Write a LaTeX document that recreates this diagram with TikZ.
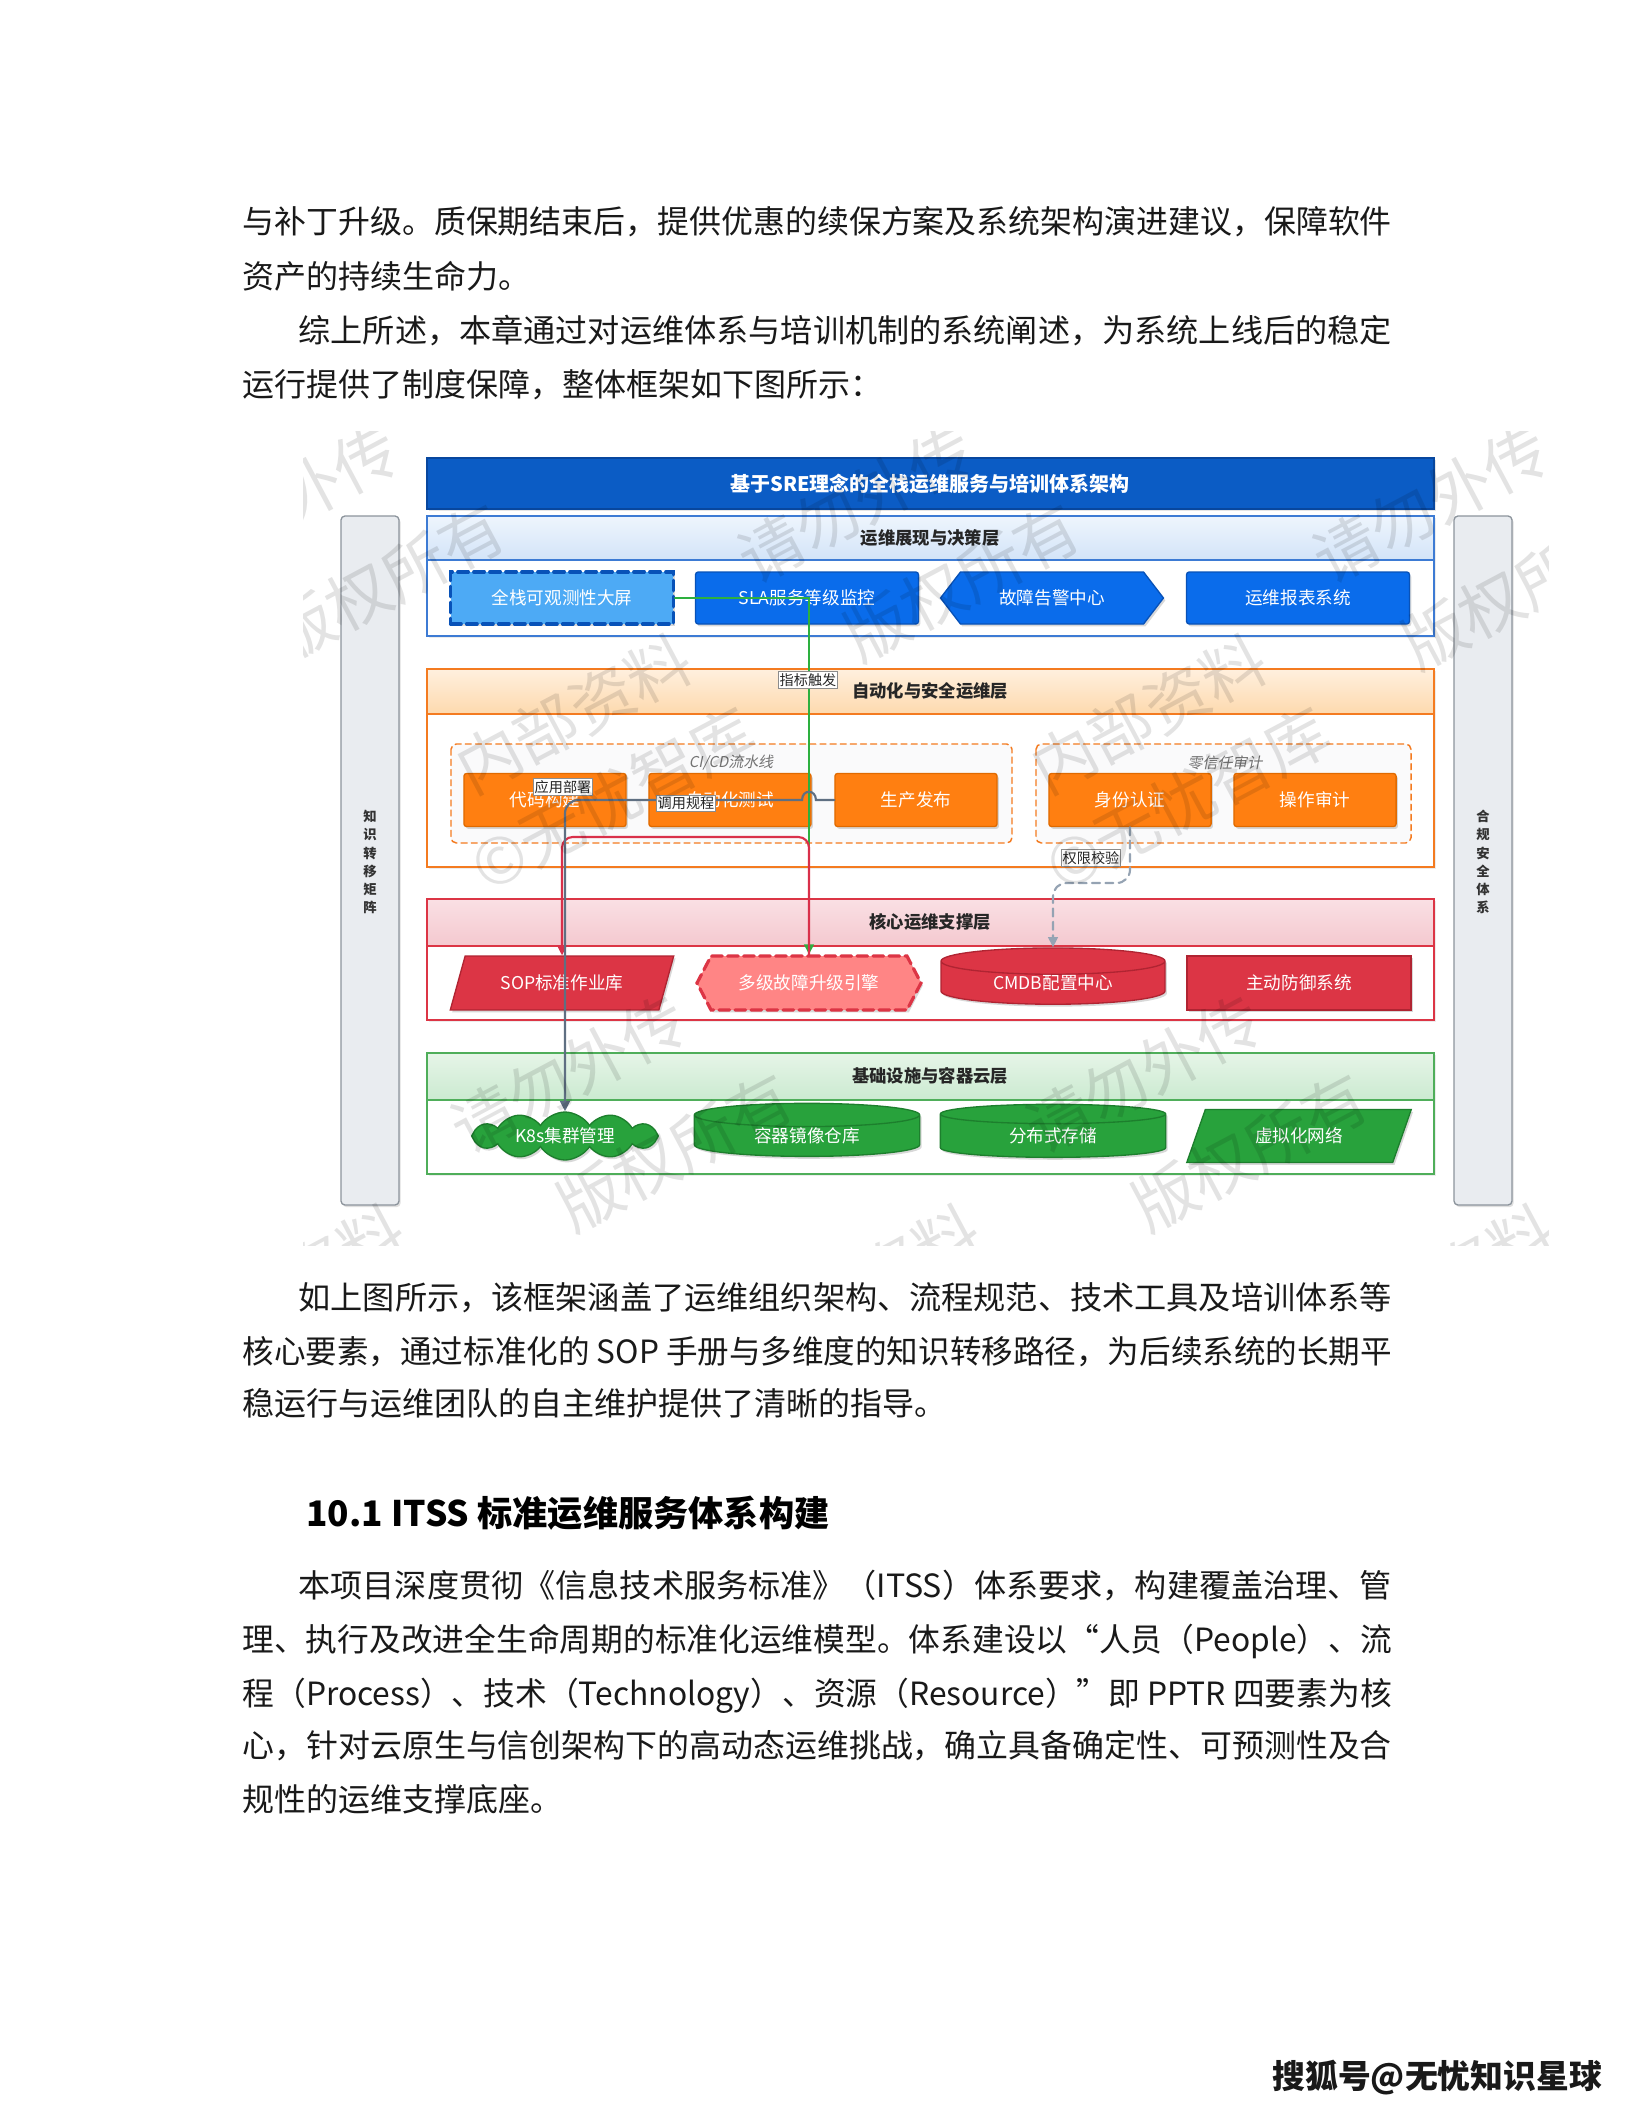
\documentclass[tikz,border=0pt]{standalone}
\usepackage{fontspec}
\usepackage{graphicx}
\setmainfont{Noto Sans CJK SC}
\newfontfamily\cjk{Noto Sans CJK SC}
\newfontfamily\cjkslant[FakeSlant=0.2]{Noto Sans CJK SC}
\usetikzlibrary{arrows.meta,shapes.geometric,shapes.symbols,shadows}
\usepackage{xcolor}

\definecolor{titleblue}{HTML}{0B5CC5}
\definecolor{titleedge}{HTML}{08479E}
\definecolor{bluehdrtop}{HTML}{EEF5FD}
\definecolor{bluehdr}{HTML}{D3E4F8}
\definecolor{blueline}{HTML}{3D7BD4}
\definecolor{nodeblue}{HTML}{0A6CEB}
\definecolor{nodeblueedge}{HTML}{0852B8}
\definecolor{lightblue}{HTML}{4DAAF5}
\definecolor{orangehdrtop}{HTML}{FFF0DE}
\definecolor{orangehdr}{HTML}{FDD9AE}
\definecolor{orangeline}{HTML}{F47B20}
\definecolor{nodeorange}{HTML}{FF7F11}
\definecolor{nodeorangeedge}{HTML}{E06A00}
\definecolor{redhdrtop}{HTML}{FAE0E4}
\definecolor{redhdr}{HTML}{F4C8CF}
\definecolor{redline}{HTML}{DC3545}
\definecolor{nodered}{HTML}{DC3545}
\definecolor{noderededge}{HTML}{B02432}
\definecolor{nodepink}{HTML}{FF8585}
\definecolor{greenhdrtop}{HTML}{E6F5E8}
\definecolor{greenhdr}{HTML}{CBEAD0}
\definecolor{greenline}{HTML}{4FAE5A}
\definecolor{nodegreen}{HTML}{28A23C}
\definecolor{nodegreenedge}{HTML}{1D7F2D}
\definecolor{sidefill}{HTML}{E9ECF0}
\definecolor{sideedge}{HTML}{8C949C}
\definecolor{slate}{HTML}{5F6F82}
\definecolor{flowgreen}{HTML}{2DB03F}
\definecolor{flowred}{HTML}{D9304A}
\definecolor{dashgray}{HTML}{95A3B3}
\definecolor{grpfill}{HTML}{FAFAFB}

\newcommand{\nodefont}{\cjk\fontsize{6.6}{8}\selectfont}
\newcommand{\hdrfont}{\cjk\bfseries\fontsize{6.5}{8}\selectfont}
\newcommand{\bodyfont}{\cjk\fontsize{12}{14}\selectfont}
\newcommand{\fullline}[2]{\resizebox{#1}{\height}{#2}}

\begin{document}
\begin{tikzpicture}[x=0.375pt,y=-0.375pt,>={Triangle[length=3.8pt,width=3.6pt]},line cap=round,font=\cjk,
  layerbody/.style={fill=white,line width=0.6pt,drop shadow={shadow xshift=0.6pt,shadow yshift=-0.9pt,opacity=0.15}},
  layerhead/.style={line width=0.6pt},
  headtext/.style={font=\hdrfont,text=black!85,inner sep=0pt},
  box/.style={inner sep=0pt,align=center,text=white,font=\nodefont,line width=0.5pt,
    drop shadow={shadow xshift=0.7pt,shadow yshift=-0.9pt,opacity=0.3}},
  l1box/.style={box,minimum width=83.6pt,minimum height=19.5pt},
  l2box/.style={box,rectangle,rounded corners=1pt,fill=nodeorange,draw=nodeorangeedge,minimum width=60.8pt,minimum height=19.9pt},
  l3box/.style={box,minimum width=84pt,minimum height=20.2pt},
  l4box/.style={box,minimum width=84.5pt,minimum height=19.9pt},
  drum/.style={cylinder,shape border rotate=90,aspect=0.22},
  group/.style={draw=orangeline,dashed,dash pattern=on 2.2pt off 1.6pt,line width=0.55pt,fill=grpfill,rounded corners=2pt},
  grouptext/.style={font=\cjkslant\fontsize{5.6}{7}\selectfont,text=black!55,inner sep=0pt},
  lbl/.style={draw=black!45,fill=white,line width=0.3pt,inner sep=0.6pt,font=\cjk\fontsize{5.3}{6}\selectfont,text=black!85},
  flow/.style={->,line width=0.8pt},
  sidebar/.style={fill=sidefill,draw=sideedge,line width=0.5pt,rounded corners=1.5pt,
    drop shadow={shadow xshift=0.6pt,shadow yshift=-0.8pt,opacity=0.25}},
  sidetext/.style={font=\cjk\bfseries\fontsize{5}{6.8}\selectfont,text=black!80,align=center,inner sep=0pt},
  bodytext/.style={anchor=base west,inner sep=0pt,font=\bodyfont,text=black!90},
  wmark/.style={rotate=28,font=\cjk\fontsize{24}{26}\selectfont,text=black,text opacity=0.11,inner sep=0pt}]

\fill[white] (0,0) rectangle (1632,2112);
\useasboundingbox (0,0) rectangle (1632,2112);

% text above the figure
\node[bodytext] (t1) at (242,234) {\fullline{431pt}{与补丁升级。质保期结束后，提供优惠的续保方案及系统架构演进建议，保障软件}};
\node[bodytext] (t2) at (242,288) {资产的持续生命力。};
\node[bodytext] (t3) at (298,342) {\fullline{410pt}{综上所述，本章通过对运维体系与培训机制的系统阐述，为系统上线后的稳定}};
\node[bodytext] (t4) at (242,396) {运行提供了制度保障，整体框架如下图所示：};

% side columns
\draw[sidebar] (341,516) rectangle (399,1205);
\node[sidetext] (know) at (370,862) {知\\识\\转\\移\\矩\\阵};
\draw[sidebar] (1454,516) rectangle (1512,1205);
\node[sidetext] (comp) at (1483,862) {合\\规\\安\\全\\体\\系};

% title
\draw[fill=titleblue,draw=titleedge,line width=0.6pt,drop shadow={shadow xshift=0.6pt,shadow yshift=-0.9pt,opacity=0.2}] (427,458) rectangle (1434,509);
\node[font=\cjk\bfseries\fontsize{7.5}{9}\selectfont,text=white,inner sep=0pt] (title) at (930,484) {基于SRE理念的全栈运维服务与培训体系架构};

% layer 1
\draw[layerbody,draw=blueline] (427,516) rectangle (1434,636);
\draw[layerhead,draw=blueline,top color=bluehdrtop,bottom color=bluehdr] (427,516) rectangle (1434,560);
\node[headtext] (hd1) at (930,538) {运维展现与决策层};

% layer 2
\draw[layerbody,draw=orangeline] (427,669) rectangle (1434,867);
\draw[layerhead,draw=orangeline,top color=orangehdrtop,bottom color=orangehdr] (427,669) rectangle (1434,714);
\node[headtext] (hd2) at (930,691) {自动化与安全运维层};
\draw[group] (451,744) rectangle (1012,843);
\node[grouptext] (cicd) at (731,763) {CI/CD流水线};
\draw[group] (1036,744) rectangle (1411,843);
\node[grouptext] (zerotrust) at (1225,763) {零信任审计};

% layer 3
\draw[layerbody,draw=redline] (427,899) rectangle (1434,1020);
\draw[layerhead,draw=redline,top color=redhdrtop,bottom color=redhdr] (427,899) rectangle (1434,946);
\node[headtext] (hd3) at (930,922) {核心运维支撑层};

% layer 4
\draw[layerbody,draw=greenline] (427,1053) rectangle (1434,1174);
\draw[layerhead,draw=greenline,top color=greenhdrtop,bottom color=greenhdr] (427,1053) rectangle (1434,1100);
\node[headtext] (hd4) at (930,1076) {基础设施与容器云层};

% nodes, layer 1
\node[l1box,rectangle,fill=lightblue,draw=nodeblueedge,line width=1.2pt,dash pattern=on 4pt off 2pt] (screen) at (562,598) {全栈可观测性大屏};
\node[l1box,rectangle,rounded corners=1pt,fill=nodeblue,draw=nodeblueedge] (sla) at (807,598) {SLA服务等级监控};
\node[l1box,signal,signal to=west and east,signal pointer angle=105,fill=nodeblue,draw=nodeblueedge] (alarm) at (1052,598) {故障告警中心};
\node[l1box,rectangle,rounded corners=1pt,fill=nodeblue,draw=nodeblueedge] (report) at (1298,598) {运维报表系统};

% nodes, layer 2
\node[l2box] (build) at (545,800) {代码构建};
\node[l2box] (test) at (730,800) {自动化测试};
\node[l2box] (release) at (916,800) {生产发布};
\node[l2box] (auth) at (1130,800) {身份认证};
\node[l2box] (audit) at (1315,800) {操作审计};

% nodes, layer 3
\node[l3box,trapezium,trapezium left angle=60,trapezium right angle=120,trapezium stretches=true,fill=nodered,draw=noderededge] (sop) at (562,983) {SOP标准作业库};
\node[l3box,signal,signal to=west and east,signal pointer angle=125,fill=nodepink,draw=redline,line width=1.2pt,dash pattern=on 4pt off 2pt] (escal) at (809,983) {多级故障升级引擎};
\node[l3box,drum,fill=nodered,draw=noderededge] (cmdb) at (1053,983) {CMDB配置中心};
\node[l3box,rectangle,fill=nodered,draw=noderededge] (defense) at (1299,983) {主动防御系统};

% nodes, layer 4
\node[l4box,cloud,cloud puffs=12,cloud puff arc=115,cloud ignores aspect,minimum width=70pt,minimum height=18pt,fill=nodegreen,draw=nodegreenedge] (k8s) at (565,1136) {K8s集群管理};
\node[l4box,drum,fill=nodegreen,draw=nodegreenedge] (registry) at (807,1136) {容器镜像仓库};
\node[l4box,drum,fill=nodegreen,draw=nodegreenedge] (storage) at (1053,1136) {分布式存储};
\node[l4box,trapezium,trapezium left angle=62,trapezium right angle=118,trapezium stretches=true,fill=nodegreen,draw=nodegreenedge] (vnet) at (1299,1136) {虚拟化网络};

% connectors
\draw[flow,draw=flowgreen,line width=0.9pt] (screen.east) -| (escal.north);
\draw[flow,draw=flowred,rounded corners=4pt] (escal.north) -- (escal.north |- 0,837) -- (sop.north |- 0,837) -- (sop.north);
\draw[flow,draw=slate] (release.west) -- ([xshift=2.6pt]escal.north |- release.west)
  .. controls +(0,-11) and +(0,-11) .. ([xshift=-2.6pt]escal.north |- release.west)
  [rounded corners=5pt] -- (k8s.north |- release.west) -- (k8s.north);
\draw[flow,draw=dashgray,dash pattern=on 3pt off 2pt,rounded corners=5pt] (auth.south) -- (auth.south |- 0,883) -- (cmdb.north |- 0,883) -- (cmdb.north);

\node[lbl] (trig) at (808,680) {指标触发};
\node[lbl] (deploy) at (563,787) {应用部署};
\node[lbl] (callsop) at (686,803) {调用规程};
\node[lbl] (perm) at (1091,858) {权限校验};

% watermark
\begin{scope}
\clip (303,431) rectangle (1548,1245);
\foreach \wx/\wy/\wt [count=\n] in {281/504/请勿外传,387/582/版权所有,574/714/内部资料,613/799/©无忧智库,
    856/504/请勿外传,962/582/版权所有,1149/714/内部资料,1188/799/©无忧智库,1431/504/请勿外传,1520/590/版权所有,
    569/1074/请勿外传,675/1152/版权所有,1144/1074/请勿外传,1250/1152/版权所有,
    287/1284/内部资料,862/1284/内部资料,1437/1284/内部资料}
  \node[wmark] (wm\n) at (\wx,\wy) {\wt};
\end{scope}

% text below the figure
\node[bodytext] (t5) at (298,1309) {\fullline{410pt}{如上图所示，该框架涵盖了运维组织架构、流程规范、技术工具及培训体系等}};
\node[bodytext] (t6) at (242,1363) {\fullline{431pt}{核心要素，通过标准化的 SOP 手册与多维度的知识转移路径，为后续系统的长期平}};
\node[bodytext] (t7) at (242,1415) {稳运行与运维团队的自主维护提供了清晰的指导。};

\node[anchor=base west,inner sep=0pt,font=\cjk\bfseries\fontsize{13.2}{15}\selectfont,text=black] (sec) at (306,1526) {10.1 ITSS 标准运维服务体系构建};

\node[bodytext] (t8) at (298,1597) {\fullline{410pt}{本项目深度贯彻《信息技术服务标准》（ITSS）体系要求，构建覆盖治理、管}};
\node[bodytext] (t9) at (242,1651) {\fullline{431pt}{理、执行及改进全生命周期的标准化运维模型。体系建设以“人员（People）、流}};
\node[bodytext] (t10) at (242,1705) {\fullline{431pt}{程（Process）、技术（Technology）、资源（Resource）”即 PPTR 四要素为核}};
\node[bodytext] (t11) at (242,1757) {\fullline{431pt}{心，针对云原生与信创架构下的高动态运维挑战，确立具备确定性、可预测性及合}};
\node[bodytext] (t12) at (242,1811) {规性的运维支撑底座。};

\node[anchor=base west,inner sep=0pt,font=\cjk\bfseries\fontsize{12.3}{14}\selectfont,text=black!90] (footer) at (1272,2088) {搜狐号@无忧知识星球};
\end{tikzpicture}
\end{document}
